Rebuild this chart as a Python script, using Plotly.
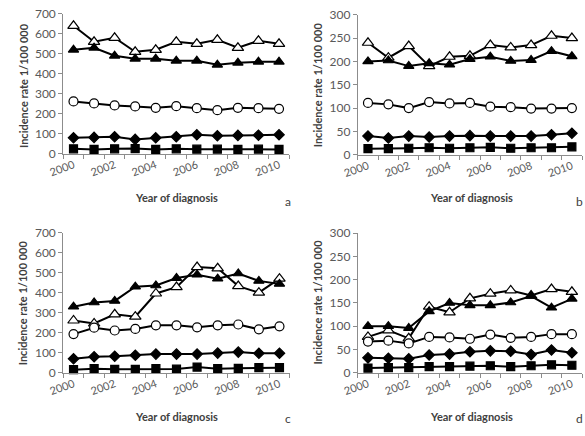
import plotly.graph_objects as go

years = [2000, 2001, 2002, 2003, 2004, 2005, 2006, 2007, 2008, 2009, 2010]
label_years = [2000, 2002, 2004, 2006, 2008, 2010]

# panel a
a_open_tri = [640, 560, 580, 510, 520, 560, 550, 570, 530, 565, 550]
a_fill_tri = [520, 530, 490, 475, 475, 465, 465, 445, 455, 460, 460]
a_circle = [262, 252, 242, 237, 230, 238, 228, 218, 230, 228, 225]
a_diamond = [80, 82, 85, 72, 80, 85, 95, 90, 92, 93, 95]
a_square = [25, 22, 25, 26, 22, 25, 23, 23, 22, 23, 22]

# panel b
b_open_tri = [240, 208, 233, 190, 210, 212, 235, 230, 235, 255, 250]
b_fill_tri = [200, 202, 190, 196, 193, 205, 210, 201, 203, 222, 211]
b_circle = [111, 108, 100, 113, 110, 111, 103, 102, 99, 99, 100]
b_diamond = [40, 36, 40, 38, 40, 41, 40, 40, 40, 43, 46]
b_square = [13, 13, 14, 15, 14, 15, 16, 14, 15, 15, 17]

# panel c
c_open_tri = [261, 246, 292, 280, 396, 428, 528, 522, 433, 400, 470]
c_fill_tri = [330, 351, 359, 430, 436, 473, 490, 470, 496, 459, 444]
c_circle = [193, 225, 211, 219, 237, 237, 227, 237, 241, 217, 232]
c_diamond = [70, 80, 82, 87, 93, 93, 93, 98, 103, 97, 97]
c_square = [15, 20, 17, 17, 20, 18, 28, 20, 22, 25, 25]

# panel d
d_open_tri = [77, 91, 74, 142, 130, 160, 170, 177, 166, 180, 174]
d_fill_tri = [100, 100, 96, 132, 150, 145, 145, 151, 165, 140, 159]
d_circle = [67, 69, 63, 77, 76, 73, 82, 75, 77, 83, 83]
d_diamond = [32, 31, 30, 38, 40, 45, 47, 46, 39, 49, 43]
d_square = [10, 11, 11, 13, 13, 14, 15, 13, 15, 17, 16]

panels = [
    ("a", [a_open_tri, a_fill_tri, a_circle, a_diamond, a_square], 700, 100),
    ("b", [b_open_tri, b_fill_tri, b_circle, b_diamond, b_square], 300, 50),
    ("c", [c_open_tri, c_fill_tri, c_circle, c_diamond, c_square], 700, 100),
    ("d", [d_open_tri, d_fill_tri, d_circle, d_diamond, d_square], 300, 50),
]

W, H = 585, 436
# pixel boxes: (x0, x1, y_top, y_bottom)
boxes = [
    (49.5, 281.5, 6, 151),
    (351.8, 582.0, 7, 152),
    (49.5, 282.0, 232.7, 377.7),
    (351.8, 582.0, 233.3, 377.7),
]

styles = [
    dict(symbol="triangle-up", size=10, color="white"),
    dict(symbol="triangle-up", size=9, color="black"),
    dict(symbol="circle", size=9, color="white"),
    dict(symbol="diamond", size=8, color="black"),
    dict(symbol="square", size=8, color="black"),
]
names = ["Series 1", "Series 2", "Series 3", "Series 4", "Series 5"]

fig = go.Figure()
layout = dict(
    width=W, height=H, margin=dict(l=0, r=0, t=0, b=0),
    paper_bgcolor="white", plot_bgcolor="white", showlegend=False,
    font=dict(family="Lato, Open Sans, sans-serif", color="#595959", size=11),
)
annotations = []
gray = "#8c8c8c"
title_font = dict(family="Lato, Open Sans, sans-serif", size=11, color="#404040")

for i, (letter, series, ymax, dy) in enumerate(panels):
    k = "" if i == 0 else str(i + 1)
    x0, x1, yt, yb = boxes[i]
    for s, (vals, st) in enumerate(zip(series, styles)):
        fig.add_trace(go.Scatter(
            x=years, y=vals, mode="lines+markers", name=names[s],
            xaxis="x" + k, yaxis="y" + k,
            line=dict(color="black", width=2),
            marker=dict(symbol=st["symbol"], size=st["size"], color=st["color"],
                        line=dict(color="black", width=1.2)),
            cliponaxis=False,
        ))
    layout["xaxis" + k] = dict(
        domain=[x0 / W, x1 / W], anchor="y" + k, range=[1999.5, 2010.5],
        tickmode="array", tickvals=label_years, ticks="", tickangle=-20,
        showline=True, linecolor=gray, linewidth=1, showgrid=False, zeroline=False,
        tickfont=dict(size=11, color="#595959"),
        minor=dict(tickmode="array", tickvals=[y - 0.5 for y in years] + [2010.5],
                   ticks="outside", ticklen=4, tickcolor=gray, showgrid=False),
    )
    layout["yaxis" + k] = dict(
        domain=[(H - yb) / H, (H - yt) / H], anchor="x" + k, range=[0, ymax],
        dtick=dy, ticks="outside", ticklen=4, tickcolor=gray,
        showline=True, linecolor=gray, linewidth=1, showgrid=False, zeroline=False,
        tickfont=dict(size=12, color="#595959"),
    )
    # titles and letters
    ytitle_x = 8 if i in (0, 2) else 310
    ytitle_y = 80 if i < 2 else 305
    annotations.append(dict(
        text="<b>Incidence rate 1/100 000</b>", x=ytitle_x / W, y=1 - ytitle_y / H,
        xref="paper", yref="paper", showarrow=False, textangle=-90,
        xanchor="center", yanchor="middle", font=title_font,
    ))
    xtitle_x = 166 if i in (0, 2) else 468
    xtitle_y = 196 if i < 2 else 423
    annotations.append(dict(
        text="<b>Year of diagnosis</b>", x=xtitle_x / W, y=1 - xtitle_y / H,
        xref="paper", yref="paper", showarrow=False,
        xanchor="center", yanchor="middle", font=title_font,
    ))
    lx = 280 if i in (0, 2) else 579
    ly = 200 if i < 2 else 425
    annotations.append(dict(
        text=letter, x=lx / W, y=1 - ly / H, xref="paper", yref="paper",
        showarrow=False, xanchor="center", yanchor="middle",
        font=dict(family="Lato, Open Sans, sans-serif", size=12, color="#404040"),
    ))

layout["annotations"] = annotations
fig.update_layout(**layout)
fig.write_html("out.html", config={"displayModeBar": False},
               post_script="document.body.style.margin='0';document.body.style.overflow='hidden';")
